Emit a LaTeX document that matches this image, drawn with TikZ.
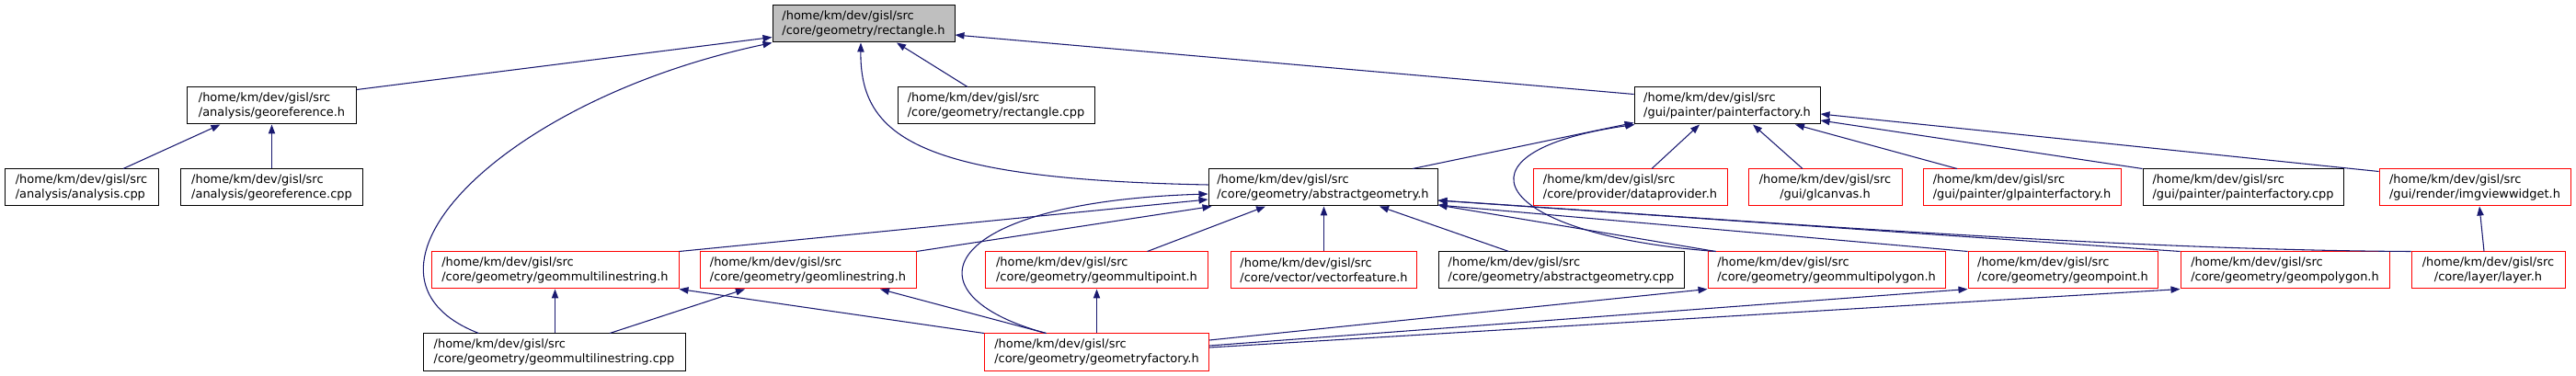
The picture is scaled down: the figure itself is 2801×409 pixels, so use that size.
\documentclass[tikz,border=0pt]{standalone}
\usepackage{fontspec}
\setmainfont{DejaVu Sans}
\usetikzlibrary{arrows.meta,calc}
\definecolor{edgeblue}{RGB}{25,25,112}
\definecolor{rootgray}{RGB}{191,191,191}
\definecolor{boxred}{RGB}{255,0,0}
\begin{document}
\begin{tikzpicture}[x=0.75pt,y=-0.75pt,
  nb/.style={draw=black, line width=0.75pt, minimum width=#1*0.75pt, minimum height=30pt, inner sep=0pt, align=left, font=\fontsize{9.7}{12}\selectfont},
  rb/.style={nb=#1, draw=boxred},
  e/.style={draw=edgeblue, line width=0.8pt, -{Triangle[length=7.5pt,width=5.5pt]}}]
\useasboundingbox (0,0) rectangle (2801,409);
% row 0
\node[nb=198, fill=rootgray] (rect) at (939,26) {/home/km/dev/gisl/src\\/core/geometry/rectangle.h};
% row 1
\node[nb=184] (georef) at (295.5,115) {/home/km/dev/gisl/src\\/analysis/georeference.h};
\node[nb=214] (rectcpp) at (1083,115) {/home/km/dev/gisl/src\\/core/geometry/rectangle.cpp};
\node[nb=202] (pf) at (1878,115) {/home/km/dev/gisl/src\\/gui/painter/painterfactory.h};
% row 2
\node[nb=167] (analysis) at (88.5,204) {/home/km/dev/gisl/src\\/analysis/analysis.cpp};
\node[nb=198] (georefcpp) at (295.5,204) {/home/km/dev/gisl/src\\/analysis/georeference.cpp};
\node[nb=249] (ag) at (1438.5,204) {/home/km/dev/gisl/src\\/core/geometry/abstractgeometry.h};
\node[rb=211] (dataprov) at (1772.5,204) {/home/km/dev/gisl/src\\/core/provider/dataprovider.h};
\node[rb=167, align=center] (glcanvas) at (1984.5,204) {/home/km/dev/gisl/src\\/gui/glcanvas.h};
\node[rb=215] (glpf) at (2198.5,204) {/home/km/dev/gisl/src\\/gui/painter/glpainterfactory.h};
\node[nb=218] (pfcpp) at (2439,204) {/home/km/dev/gisl/src\\/gui/painter/painterfactory.cpp};
\node[rb=208] (imgview) at (2691,204) {/home/km/dev/gisl/src\\/gui/render/imgviewwidget.h};
% row 3
\node[rb=269] (gmlsh) at (603.5,294) {/home/km/dev/gisl/src\\/core/geometry/geommultilinestring.h};
\node[rb=235] (glsh) at (878.5,294) {/home/km/dev/gisl/src\\/core/geometry/geomlinestring.h};
\node[rb=242] (gmpt) at (1192.5,294) {/home/km/dev/gisl/src\\/core/geometry/geommultipoint.h};
\node[rb=202] (vecf) at (1439.5,294) {/home/km/dev/gisl/src\\/core/vector/vectorfeature.h};
\node[nb=267] (agcpp) at (1697.5,294) {/home/km/dev/gisl/src\\/core/geometry/abstractgeometry.cpp};
\node[rb=258] (gmpoly) at (1986,294) {/home/km/dev/gisl/src\\/core/geometry/geommultipolygon.h};
\node[rb=206] (gpt) at (2243,294) {/home/km/dev/gisl/src\\/core/geometry/geompoint.h};
\node[rb=227] (gpoly) at (2484.5,294) {/home/km/dev/gisl/src\\/core/geometry/geompolygon.h};
\node[rb=167, align=center] (layer) at (2705.5,294) {/home/km/dev/gisl/src\\/core/layer/layer.h};
% row 4
\node[nb=285] (gmlscpp) at (602.5,383) {/home/km/dev/gisl/src\\/core/geometry/geommultilinestring.cpp};
\node[rb=244] (gfac) at (1192.5,383) {/home/km/dev/gisl/src\\/core/geometry/geometryfactory.h};

% edges to rectangle.h
\draw[e] ($(georef.north east)+(0,3)$) -- ($(rect.south west)+(0,-6)$);
\draw[e] ($(gmlscpp.north west)+(61,0)$) .. controls (360,300) and (540,110) .. (rect.south west);
\draw[e] ($(ag.west)+(0,-3)$) .. controls (1000,195) and (935,150) .. ($(rect.south)+(-3,0)$);
\draw[e] ($(rectcpp.north)+(-31,0)$) -- ($(rect.south)+(36,0)$);
\draw[e] ($(pf.north west)+(0,8)$) -- ($(rect.east)+(0,12)$);
% edges to georeference.h
\draw[e] ($(analysis.north)+(45.5,0)$) -- ($(georef.south)+(-56,0)$);
\draw[e] (georefcpp.north) -- (georef.south);
% edges to painterfactory.h
\draw[e] ($(ag.north)+(97.5,0)$) -- ($(pf.south west)+(0,-2)$);
\draw[e] ($(dataprov.north)+(23.5,0)$) -- ($(pf.south)+(-30,0)$);
\draw[e] ($(glcanvas.north)+(-24.5,0)$) -- ($(pf.south)+(28,0)$);
\draw[e] ($(glpf.north)+(-70.5,0)$) -- ($(pf.south)+(74,0)$);
\draw[e] (pfcpp.north west) -- ($(pf.east)+(0,16)$);
\draw[e] ($(imgview.north west)+(0,3)$) -- ($(pf.east)+(0,9)$);
\draw[e] ($(gmpoly.north west)+(9,0)$) .. controls (1620,255) and (1570,165) .. ($(pf.south west)+(1,0)$);
% edge to imgviewwidget.h
\draw[e] ($(layer.north)+(-4.5,0)$) -- ($(imgview.south)+(5,0)$);
% edges to abstractgeometry.h
\draw[e] (gmlsh.north east) -- ($(ag.west)+(0,13)$);
\draw[e] (glsh.north east) -- ($(ag.south west)+(4,0)$);
\draw[e] ($(gfac.north)+(-55,0)$) .. controls (980,320) and (1020,220) .. ($(ag.west)+(0,7)$);
\draw[e] ($(gmpt.north)+(55,0)$) -- ($(ag.south)+(-62.5,0)$);
\draw[e] (vecf.north) -- (vecf.north |- ag.south);
\draw[e] ($(agcpp.north west)+(77,0)$) -- ($(ag.south)+(61.5,0)$);
\draw[e] ($(gmpoly.north west)+(9,0)$) -- ($(ag.east)+(0,19)$);
\draw[e] (gpt.north west) -- ($(ag.east)+(0,19)$);
\draw[e] (gpoly.north west) -- ($(ag.east)+(0,14)$);
\draw[e] (layer.north west) .. controls (2300,272) and (1900,240) .. ($(ag.east)+(0,14)$);
% edges from geometryfactory.h
\draw[e] (gfac.north west) -- (gmlsh.south east);
\draw[e] ($(gfac.north)+(-55,0)$) -- ($(glsh.south)+(78.5,0)$);
\draw[e] (gfac.north) -- (gmpt.south);
\draw[e] ($(gfac.east)+(0,-13)$) -- (gmpoly.south west);
\draw[e] ($(gfac.east)+(0,-7)$) -- (gpt.south west);
\draw[e] ($(gfac.east)+(0,-5)$) -- (gpoly.south west);
% edges from geommultilinestring.cpp
\draw[e] (gmlsh.south |- gmlscpp.north) -- (gmlsh.south);
\draw[e] ($(gmlscpp.north)+(60.5,0)$) -- ($(glsh.south)+(-68.5,0)$);
\end{tikzpicture}
\end{document}
